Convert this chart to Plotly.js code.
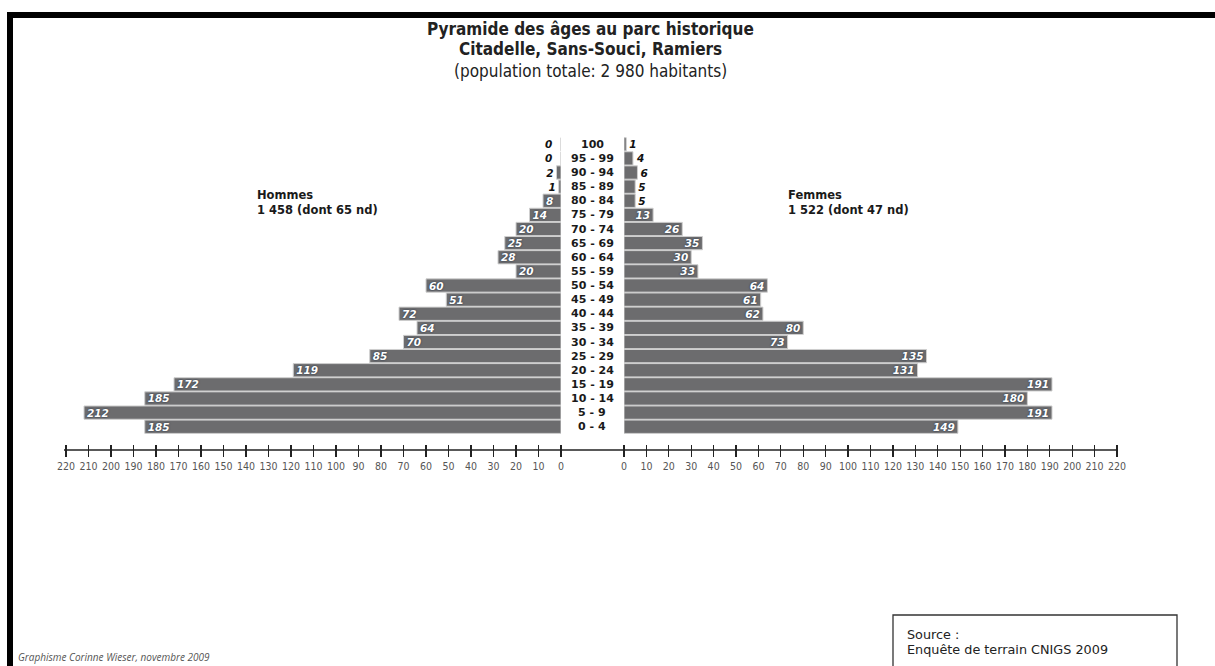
<!DOCTYPE html>
<html>
<head>
<meta charset="utf-8">
<script src="https://cdn.plot.ly/plotly-3.0.1.min.js"></script>
<style>
html,body{margin:0;padding:0;background:#fff;}
#chart{width:1215px;height:666px;}
</style>
</head>
<body>
<div id="chart"></div>
<script>
// ---- data ----
const ageGroups = ['0 - 4','5 - 9','10 - 14','15 - 19','20 - 24','25 - 29','30 - 34','35 - 39','40 - 44','45 - 49','50 - 54','55 - 59','60 - 64','65 - 69','70 - 74','75 - 79','80 - 84','85 - 89','90 - 94','95 - 99','100'];
const hommes = [185,212,185,172,119,85,70,64,72,51,60,20,28,25,20,14,8,1,2,0,0];
const femmes = [149,191,180,191,131,135,73,80,62,61,64,33,30,35,26,13,5,5,6,4,1];
const tickValues = [0,10,20,30,40,50,60,70,80,90,100,110,120,130,140,150,160,170,180,190,200,210,220];
const titleLines = ['Pyramide des âges au parc historique','Citadelle, Sans-Souci, Ramiers','(population totale: 2 980 habitants)'];
const hommesLabel = ['Hommes','1 458 (dont 65 nd)'];
const femmesLabel = ['Femmes','1 522 (dont 47 nd)'];
const sourceLines = ['Source :','Enquête de terrain CNIGS 2009'];
const creditText = 'Graphisme Corinne Wieser, novembre 2009';

// ---- helpers (pixel -> paper) ----
const W = 1215, H = 666;
const px = x => x / W;
const py = y => (H - y) / H;

const barColor = '#6c6c6e';
const valFamily = 'DejaVu Sans, sans-serif';
const insideFont = {family:valFamily, size:10.5, color:'#ffffff', weight:'bold', style:'italic', shadow:'0px 0px 2px #1a2a40'};
const outsideFont = {family:valFamily, size:10.5, color:'#111111', weight:'bold', style:'italic'};
const posFor = v => (v === 0 ? 'none' : (v >= 8 ? 'inside' : 'outside'));

function barTrace(vals, xa, ya) {
  return {
    type:'bar', orientation:'h', x:vals, y:ageGroups, xaxis:xa, yaxis:ya,
    marker:{color:barColor, line:{color:'#cfcfcf', width:1}},
    text:vals.map(String), textposition:vals.map(posFor), insidetextanchor:'end',
    textangle:0, constraintext:'none', cliponaxis:false,
    insidetextfont:insideFont, outsidetextfont:outsideFont,
    hoverinfo:'none', showlegend:false
  };
}
const traceH = barTrace(hommes, 'x', 'y');
const traceF = barTrace(femmes, 'x2', 'y2');

const yDomain = [py(433.8), py(137.2)];
const axisY = 450;
const tickFont = {family:"'Liberation Sans Narrow', 'DejaVu Sans Condensed', sans-serif", size:10.5, color:'#555'};

const commonX = {
  anchor:'free', position:py(axisY - 6), showgrid:false, zeroline:false, showline:false,
  ticks:'outside', ticklen:12, tickwidth:1.2, tickcolor:'#222',
  tickmode:'array', tickvals:tickValues, ticktext:tickValues.map(String),
  tickfont:tickFont, fixedrange:true
};

const condensed = "'DejaVu Sans Condensed', 'DejaVu Sans', sans-serif";
const annotations = [];
const titleY = [28.5, 49, 71];
titleLines.forEach((t, i) => {
  annotations.push({
    xref:'paper', yref:'paper', x:px(590), y:py(titleY[i]), xanchor:'center', yanchor:'middle',
    text:i < 2 ? '<b>' + t + '</b>' : t, showarrow:false,
    font:{family:condensed, size:i < 2 ? 17 : 17, color:'#222'}
  });
});
ageGroups.forEach((g, i) => {
  annotations.push({
    xref:'paper', yref:'y', x:px(592), y:i, xanchor:'center', yanchor:'middle',
    text:'<b>' + g + '</b>', showarrow:false,
    font:{family:'DejaVu Sans, sans-serif', size:11, color:'#1a1a1a'}
  });
});
// labels for zero-value bars (men side), placed left of the zero line
hommes.forEach((v, i) => {
  if (v === 0) {
    annotations.push({
      xref:'x', yref:'y', x:v, y:i, xanchor:'right', yanchor:'middle', xshift:-7,
      text:String(v), showarrow:false, font:outsideFont
    });
  }
});
[[hommesLabel, 255], [femmesLabel, 786]].forEach(([lines, x]) => {
  annotations.push({
    xref:'paper', yref:'paper', x:px(x), y:py(202), xanchor:'left', yanchor:'middle', align:'left',
    text:'<b>' + lines[0] + '</b><br><b>' + lines[1] + '</b>', showarrow:false,
    font:{family:'DejaVu Sans, sans-serif', size:11.5, color:'#1a1a1a'}
  });
});
sourceLines.forEach((t, i) => {
  annotations.push({
    xref:'paper', yref:'paper', x:px(905), y:py(634 + i * 15.2), xanchor:'left', yanchor:'middle', align:'left',
    text:t, showarrow:false,
    font:{family:'DejaVu Sans, sans-serif', size:12.8, color:'#222'}
  });
});
annotations.push({
  xref:'paper', yref:'paper', x:px(16), y:py(666), xanchor:'left', yanchor:'bottom', align:'left',
  text:'<i>' + creditText + '</i>', showarrow:false,
  font:{family:"'Open Sans', sans-serif", size:10, color:'#555'}
});

const shapes = [
  {type:'rect', xref:'paper', yref:'paper', x0:px(7), x1:px(1215), y0:py(18), y1:py(12), fillcolor:'#000', line:{width:0}, layer:'above'},
  {type:'rect', xref:'paper', yref:'paper', x0:px(7), x1:px(13), y0:py(680), y1:py(12), fillcolor:'#000', line:{width:0}, layer:'above'},
  {type:'line', xref:'paper', yref:'paper', x0:px(64), x1:px(1118), y0:py(axisY), y1:py(axisY), line:{color:'#222', width:1.3}},
  {type:'rect', xref:'paper', yref:'paper', x0:px(893), x1:px(1177), y0:py(690), y1:py(615), line:{color:'#333', width:1.3}, fillcolor:'rgba(0,0,0,0)'}
];

const layout = {
  width:W, height:H, margin:{l:0, r:0, t:0, b:0},
  paper_bgcolor:'#fff', plot_bgcolor:'rgba(0,0,0,0)',
  bargap:0.06, showlegend:false,
  xaxis:Object.assign({}, commonX, {domain:[px(66), px(561)], range:[220, 0]}),
  xaxis2:Object.assign({}, commonX, {domain:[px(624), px(1117)], range:[0, 220]}),
  yaxis:{domain:yDomain, type:'category', categoryorder:'array', categoryarray:ageGroups, range:[-0.5, 20.5], visible:false, anchor:'x', fixedrange:true},
  yaxis2:{domain:yDomain, type:'category', categoryorder:'array', categoryarray:ageGroups, range:[-0.5, 20.5], visible:false, anchor:'x2', fixedrange:true},
  annotations:annotations, shapes:shapes,
  font:{family:'DejaVu Sans, sans-serif'}
};

Plotly.newPlot('chart', [traceH, traceF], layout, {staticPlot:true, displayModeBar:false});
</script>
</body>
</html>
